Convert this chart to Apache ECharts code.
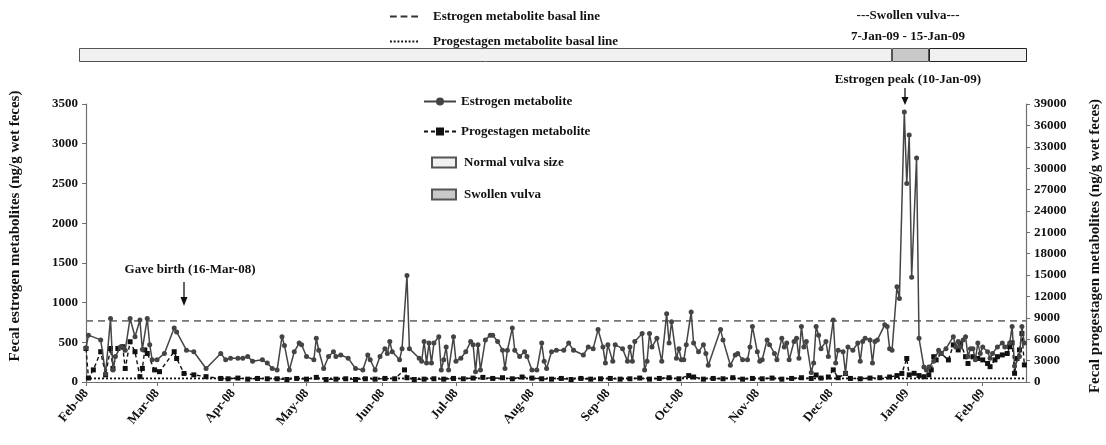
<!DOCTYPE html>
<html><head><meta charset="utf-8">
<script src="https://cdn.jsdelivr.net/npm/echarts@6/dist/echarts.min.js"></script>
<style>html,body{margin:0;padding:0;background:#fff}#c{width:1106px;height:445px}</style>
</head><body><div id="c"></div>
<script>
// ---- data (day offsets counted from startDate) ----
const startDate = [2008, 1, 1];   // 1 Feb 2008
const endDate = [2009, 1, 18];    // 18 Feb 2009
const monthNames = ['Jan','Feb','Mar','Apr','May','Jun','Jul','Aug','Sep','Oct','Nov','Dec'];

const estrogenDays = [0,1,6,8,10,11,12,14,15,16,18,20,22,23,25,26,27,29,32,36,37,41,44,49,55,57,59,62,64,66,68,72,74,76,78,80,81,83,85,87,88,90,93,94,95,97,99,101,102,104,107,110,113,115,116,118,120,122,123,124,125,128,129,131,132,136,137,138,139,140,141,142,144,145,146,147,148,150,151,153,155,157,158,159,160,161,163,165,166,168,170,171,172,174,175,177,179,180,182,184,186,187,188,190,192,195,197,199,203,205,207,209,211,212,213,215,216,219,221,222,223,224,227,228,229,230,231,233,235,237,238,239,241,242,243,244,245,247,248,250,252,253,254,259,260,263,265,266,268,270,271,272,274,275,276,278,279,281,282,284,285,286,287,289,290,291,292,293,294,296,297,298,299,300,302,303,305,306,307,309,310,311,313,315,316,317,318,320,321,322,323,326,327,328,329,331,332,334,335,336,337,339,340,342,343,344,346,348,349,351,354,355,356,357,358,359,360,361,362,363,364,365,366,368,369,370,372,374,375,377,378,379,381,382,383];
const estrogenValues = [430,590,530,100,800,150,320,440,430,400,800,570,780,410,800,470,280,280,360,680,630,400,380,170,360,280,300,300,300,320,260,280,240,170,150,570,460,150,380,490,470,320,280,550,400,170,320,380,320,340,300,170,150,340,280,150,320,420,360,510,380,280,420,1340,420,300,260,510,240,490,240,490,570,150,280,440,150,570,260,300,380,510,470,130,470,150,530,590,590,510,400,170,400,680,400,320,380,320,150,150,490,260,170,380,400,400,490,400,340,440,420,660,440,240,470,260,470,420,260,440,260,510,610,150,260,610,440,550,260,860,490,760,300,420,280,280,470,880,490,380,470,360,210,660,530,210,340,360,280,280,440,700,380,260,280,530,470,360,280,550,440,490,280,510,550,300,700,440,510,120,240,700,590,420,510,320,780,240,400,380,110,440,400,490,260,510,550,530,240,510,530,720,700,420,400,1200,1050,3400,2500,3110,1320,2820,550,190,150,190,260,400,360,420,570,440,510,440,530,570,320,420,420,280,490,360,440,380,300,360,440,490,440,490,700,200,320,700,490];

const progestagenDays = [0,1,3,6,8,10,11,13,15,16,18,20,22,23,24,25,28,30,36,37,40,44,49,55,58,62,66,70,74,78,82,86,90,94,98,102,106,110,114,118,122,126,130,131,134,138,142,146,150,154,158,162,166,170,174,178,182,186,190,194,198,202,206,210,214,218,222,226,230,234,238,242,246,248,252,256,260,264,268,272,276,280,284,288,292,296,298,300,303,305,307,310,312,316,320,324,328,331,333,335,336,338,340,342,344,345,346,347,349,352,354,356,357,359,360,362,364,366,368,369,371,372,374,376,377,378,379,380,381,382,383];
const progestagenValues = [4700,560,1700,4250,1000,4700,1900,4700,4950,1900,5650,4250,750,1900,4500,4000,1700,1450,4250,3300,1200,1000,750,500,450,550,400,500,450,450,350,500,400,650,350,400,450,350,450,400,500,450,1700,600,350,400,450,400,500,450,550,650,500,600,450,700,550,450,400,500,350,500,400,450,500,400,450,550,400,500,600,450,900,700,400,500,450,600,400,500,450,550,400,500,600,500,980,550,700,1700,600,1200,500,450,550,600,700,900,1200,3300,1000,1220,900,740,1000,1700,3550,3100,4000,3100,5200,4500,5400,3550,2600,3550,3300,3100,2600,2150,3100,3550,3800,4000,4950,5500,1220,3300,4500,6800,2400];

const estrogenBasal = 770;       // ng/g, left axis
const progestagenBasal = 500;    // ng/g, right axis
const leftAxisTicks = { min: 0, max: 3500, interval: 500 };
const rightAxisTicks = { min: 0, max: 39000, interval: 3000 };

// schematic vulva-status bar (relative lengths)
const vulvaSegmentNames = ['Normal vulva size', 'Swollen vulva', 'Normal vulva size'];
const vulvaSegmentLengths = [813, 37, 98];

// ---- build ----
const DAY = 86400000;
const t0 = new Date(startDate[0], startDate[1], startDate[2]).getTime();
const tEnd = new Date(endDate[0], endDate[1], endDate[2], 16).getTime();
const toT = d => t0 + d * DAY;
const estrogenData = estrogenDays.map((d, i) => [toT(d), estrogenValues[i]]);
const progestagenData = progestagenDays.map((d, i) => [toT(d), progestagenValues[i]]);

const FONT = '"Liberation Serif", "Times New Roman", serif';
const txt = { fontFamily: FONT, fontWeight: 'bold', fontSize: 13, color: '#111' };
const axisGray = '#6f6f6f';
const plain = v => String(v);

const dashIcon = 'path://M0,0h7v2h-7zM11,0h7v2h-7zM22,0h7v2h-7z';
const dotIcon = 'path://M0,0h2v2h-2zM4,0h2v2h-2zM8,0h2v2h-2zM12,0h2v2h-2zM16,0h2v2h-2zM20,0h2v2h-2zM24,0h2v2h-2zM28,0h2v2h-2z';

const vulvaColors = { 'Normal vulva size': '#f1f1f1', 'Swollen vulva': '#c9c9c9' };
const vulvaSeries = vulvaSegmentNames.map((n, i) => ({
  name: n, type: 'bar', xAxisIndex: 1, yAxisIndex: 2, stack: 'vulva',
  data: [vulvaSegmentLengths[i]], barWidth: 14, silent: true,
  itemStyle: { color: vulvaColors[n], borderColor: i === 2 ? '#222' : '#555', borderWidth: 1 }
}));

const chart = echarts.init(document.getElementById('c'), null, { renderer: 'canvas' });
chart.setOption({
  animation: false,
  backgroundColor: '#fff',
  grid: [
    { left: 86, right: 80, top: 104, bottom: 63 },
    { left: 79, width: 948, top: 48, height: 14 }
  ],
  xAxis: [
    {
      type: 'time', gridIndex: 0, min: t0, max: tEnd,
      minInterval: 28 * DAY, maxInterval: 31 * DAY,
      splitLine: { show: false },
      axisLine: { lineStyle: { color: axisGray, width: 1.2 } },
      axisTick: { show: true, length: 4, lineStyle: { color: axisGray } },
      axisLabel: Object.assign({}, txt, {
        rotate: 50, margin: 9, showMinLabel: true, hideOverlap: false,
        formatter: v => { const d = new Date(v); if (d.getDate() !== 1) return ''; return monthNames[d.getMonth()] + '-' + String(d.getFullYear()).slice(2); }
      })
    },
    { type: 'value', gridIndex: 1, min: 0, max: 948, show: false }
  ],
  yAxis: [
    {
      type: 'value', gridIndex: 0, position: 'left',
      min: leftAxisTicks.min, max: leftAxisTicks.max, interval: leftAxisTicks.interval,
      splitLine: { show: false },
      axisLine: { show: true, lineStyle: { color: axisGray, width: 1.2 } },
      axisTick: { show: true, length: 4, lineStyle: { color: axisGray } },
      axisLabel: Object.assign({}, txt, { margin: 8, formatter: plain })
    },
    {
      type: 'value', gridIndex: 0, position: 'right',
      min: rightAxisTicks.min, max: rightAxisTicks.max, interval: rightAxisTicks.interval,
      splitLine: { show: false },
      axisLine: { show: true, lineStyle: { color: axisGray, width: 1.2 } },
      axisTick: { show: true, length: 4, lineStyle: { color: axisGray } },
      axisLabel: Object.assign({}, txt, { margin: 8, formatter: plain })
    },
    { type: 'category', gridIndex: 1, data: ['vulva'], show: false }
  ],
  legend: [
    {
      data: [
        { name: 'Estrogen metabolite basal line', icon: dashIcon, itemStyle: { color: '#333' } },
        { name: 'Progestagen metabolite basal line', icon: dotIcon, itemStyle: { color: '#111' } }
      ],
      orient: 'vertical', left: 385, top: 5, itemWidth: 28, itemHeight: 14, itemGap: 12,
      textStyle: Object.assign({}, txt, { padding: [0, 0, 0, 10] }), selectedMode: false
    },
    {
      data: ['Estrogen metabolite', 'Progestagen metabolite'],
      orient: 'vertical', left: 418, top: 90, itemWidth: 32, itemHeight: 10, itemGap: 17,
      textStyle: txt, selectedMode: false
    },
    {
      data: [{ name: 'Normal vulva size', icon: 'rect' }, { name: 'Swollen vulva', icon: 'rect' }],
      orient: 'vertical', left: 426, top: 151, itemWidth: 24, itemHeight: 10, itemGap: 19,
      textStyle: Object.assign({}, txt, { padding: [0, 0, 0, 3] }), selectedMode: false
    }
  ],
  series: [
    {
      name: 'Estrogen metabolite basal line', type: 'line', xAxisIndex: 0, yAxisIndex: 0,
      data: [[t0, estrogenBasal], [tEnd, estrogenBasal]], showSymbol: false, symbol: 'none', silent: true,
      lineStyle: { color: '#777', width: 1.6, type: [7, 5] }, itemStyle: { color: '#777' }, z: 1
    },
    {
      name: 'Progestagen metabolite basal line', type: 'line', xAxisIndex: 0, yAxisIndex: 1,
      data: [[t0, progestagenBasal], [tEnd, progestagenBasal]], showSymbol: false, symbol: 'none', silent: true,
      lineStyle: { color: '#111', width: 1.8, type: [2, 2] }, itemStyle: { color: '#111' }, z: 1
    },
    {
      name: 'Progestagen metabolite', type: 'line', xAxisIndex: 0, yAxisIndex: 1,
      data: progestagenData, symbol: 'rect', symbolSize: 5,
      lineStyle: { color: '#111', width: 1.4, type: [4, 3] }, itemStyle: { color: '#111' }, z: 2
    },
    {
      name: 'Estrogen metabolite', type: 'line', xAxisIndex: 0, yAxisIndex: 0,
      data: estrogenData, symbol: 'circle', symbolSize: 5,
      lineStyle: { color: '#444', width: 1.5 }, itemStyle: { color: '#444' }, z: 3
    }
  ].concat(vulvaSeries),
  graphic: [
    { type: 'text', x: 15, y: 226, rotation: Math.PI / 2, style: { text: 'Fecal estrogen metabolites (ng/g wet feces)', fontFamily: FONT, fontWeight: 'bold', fontSize: 15, fill: '#111', align: 'center', verticalAlign: 'middle' } },
    { type: 'text', x: 1095, y: 246, rotation: Math.PI / 2, style: { text: 'Fecal progestagen metabolites (ng/g wet feces)', fontFamily: FONT, fontWeight: 'bold', fontSize: 15, fill: '#111', align: 'center', verticalAlign: 'middle' } },
    { type: 'text', x: 908, y: 16, style: { text: '---Swollen vulva---', fontFamily: FONT, fontWeight: 'bold', fontSize: 13, fill: '#111', align: 'center', verticalAlign: 'middle' } },
    { type: 'text', x: 908, y: 37, style: { text: '7-Jan-09 - 15-Jan-09', fontFamily: FONT, fontWeight: 'bold', fontSize: 13, fill: '#111', align: 'center', verticalAlign: 'middle' } },
    { type: 'text', x: 908, y: 80, style: { text: 'Estrogen peak (10-Jan-09)', fontFamily: FONT, fontWeight: 'bold', fontSize: 13, fill: '#111', align: 'center', verticalAlign: 'middle' } },
    { type: 'text', x: 190, y: 270, style: { text: 'Gave birth (16-Mar-08)', fontFamily: FONT, fontWeight: 'bold', fontSize: 13, fill: '#111', align: 'center', verticalAlign: 'middle' } },
    { type: 'line', shape: { x1: 905, y1: 88, x2: 905, y2: 99 }, style: { stroke: '#111', lineWidth: 1.3 } },
    { type: 'polygon', shape: { points: [[901.5, 97], [908.5, 97], [905, 105]] }, style: { fill: '#111' } },
    { type: 'line', shape: { x1: 184, y1: 282, x2: 184, y2: 299 }, style: { stroke: '#111', lineWidth: 1.3 } },
    { type: 'polygon', shape: { points: [[180.5, 297], [187.5, 297], [184, 306]] }, style: { fill: '#111' } }
  ]
});
</script></body></html>
